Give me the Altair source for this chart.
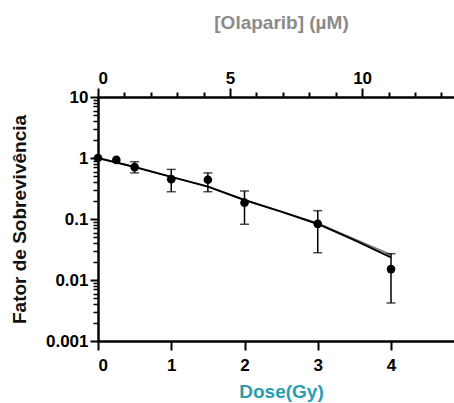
import altair as alt
import pandas as pd

# Survival data (dose in Gy)
dose = [0, 0.25, 0.5, 1, 1.5, 2, 3, 4]
sf = [1.0, 0.93, 0.71, 0.45, 0.44, 0.185, 0.083, 0.0151]
sf_hi = [None, None, 0.87, 0.65, 0.57, 0.288, 0.137, 0.027]
sf_lo = [None, None, 0.57, 0.28, 0.28, 0.082, 0.028, 0.0042]

# Fitted curves
fit_dose = [0, 0.5, 1, 1.5, 2, 2.5, 3, 3.5, 4]
fit_black = [1.0, 0.71, 0.49, 0.34, 0.205, 0.132, 0.083, 0.045, 0.0235]
fit_gray = [1.0, 0.71, 0.49, 0.34, 0.205, 0.133, 0.085, 0.047, 0.026]

# Axis ticks
x_ticks = [0, 1, 2, 3, 4]
top_ticks = list(range(0, 14))
y_major = [0.001, 0.01, 0.1, 1, 10]
y_ticks = sorted(y_major + [k * 10.0 ** d for d in range(-3, 1) for k in range(2, 10)])

X_MAX = 4.86
TOP_MAX = 13.48
FONT = "Liberation Sans"

pts = pd.DataFrame({"dose": dose, "sf": sf, "hi": sf_hi, "lo": sf_lo})
fits = pd.DataFrame({"dose": fit_dose * 2,
                     "sf": fit_gray + fit_black,
                     "curve": ["gray"] * len(fit_dose) + ["black"] * len(fit_dose)})

major_test = "abs(log(datum.value)/LN10 - round(log(datum.value)/LN10)) < 0.001"
yscale = alt.Scale(type="log", domain=[0.001, 10], nice=False)

X = alt.X("dose:Q",
          scale=alt.Scale(domain=[0, X_MAX], nice=False, zero=False),
          axis=alt.Axis(orient="bottom", values=x_ticks, title="Dose(Gy)",
                        tickSize=9, tickWidth=2, labelPadding=7,
                        titleColor="#2a9db0", titleFontSize=19,
                        titleX=183, titleY=56, titleBaseline="alphabetic",
                        titleAlign="center", titleAnchor="start"))
Y = alt.Y("sf:Q", scale=yscale,
          axis=alt.Axis(values=y_ticks, title="Fator de Sobrevivência",
                        labelExpr=f"{major_test} ? format(datum.value, '~g') : ''",
                        tickSize={"condition": {"test": major_test, "value": 8}, "value": 5},
                        tickWidth={"condition": {"test": major_test, "value": 2}, "value": 1.5},
                        labelPadding=2, titleFontSize=19, titleColor="#111111",
                        titleX=-79, titleY=122, titleAngle=270,
                        titleAlign="center", titleBaseline="middle"))

top = alt.Chart(pd.DataFrame({"um": [0, TOP_MAX]})).mark_point(opacity=0).encode(
    x=alt.X("um:Q", scale=alt.Scale(domain=[0, TOP_MAX], nice=False, zero=False),
            axis=alt.Axis(orient="top", values=top_ticks, title="[Olaparib] (µM)",
                          labelExpr="datum.value % 5 == 0 ? datum.label : ''",
                          tickSize={"condition": {"test": "datum.value % 5 == 0", "value": 9}, "value": 5},
                          tickWidth=2, labelPadding=1,
                          titleColor="#8a8a8a", titleFontSize=19,
                          titleX=183, titleY=-69, titleBaseline="alphabetic",
                          titleAlign="center", titleAnchor="start")),
)

lines = alt.Chart(fits).mark_line(clip=False).encode(
    x=X, y=Y,
    color=alt.Color("curve:N", scale=alt.Scale(domain=["gray", "black"], range=["#777777", "#000000"]), legend=None),
    strokeWidth=alt.StrokeWidth("curve:N", scale=alt.Scale(domain=["gray", "black"], range=[1.5, 2]), legend=None),
    order=alt.Order("dose:Q"),
)

valid = "datum.lo != null"
err = alt.Chart(pts).transform_filter(valid).mark_rule(color="black", strokeWidth=1.5).encode(
    x=X, y=alt.Y("lo:Q", scale=yscale), y2="hi:Q")
cap_hi = alt.Chart(pts).transform_filter(valid).mark_tick(
    color="black", orient="horizontal", size=9, thickness=1.5).encode(
    x=X, y=alt.Y("hi:Q", scale=yscale))
cap_lo = alt.Chart(pts).transform_filter(valid).mark_tick(
    color="black", orient="horizontal", size=9, thickness=1.5).encode(
    x=X, y=alt.Y("lo:Q", scale=yscale))

points = alt.Chart(pts).mark_point(filled=True, color="black", size=75, opacity=1, clip=False).encode(
    x=X, y=Y)

main = alt.layer(lines, err, cap_hi, cap_lo, points)

chart = alt.layer(top, main).resolve_scale(x="independent").properties(
    width=356, height=244,
    autosize=alt.AutoSizeParams(type="none"),
    padding={"left": 98, "top": 97, "right": 0, "bottom": 62},
).configure_view(stroke=None).configure_axis(
    domainColor="black", domainWidth=2.5, tickColor="black",
    labelFont=FONT, labelFontWeight="bold", labelFontSize=17, labelColor="black",
    titleFont=FONT, titleFontWeight="bold", grid=False,
)

chart.save("out.html", embed_options={"renderer": "svg", "actions": False})
